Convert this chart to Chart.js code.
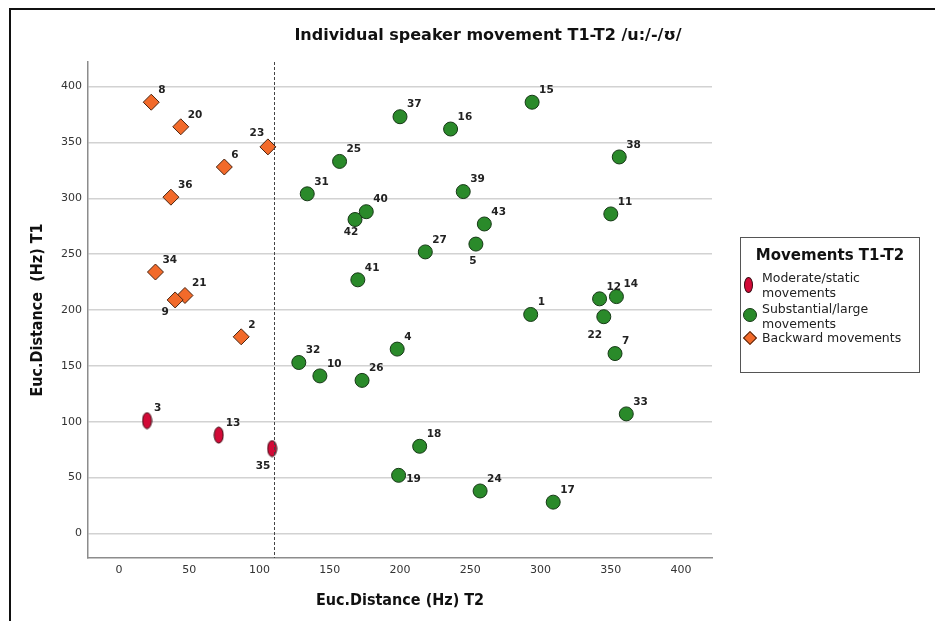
<!DOCTYPE html>
<html>
<head>
<meta charset="utf-8">
<script src="https://cdn.jsdelivr.net/npm/chart.js@4.4.0/dist/chart.umd.min.js"></script>
<style>
  html, body { margin: 0; padding: 0; background: #fff; }
  body { width: 935px; height: 621px; position: relative; overflow: hidden; font-family: "DejaVu Sans", sans-serif; }
  #frame { position: absolute; left: 9px; top: 8px; width: 1000px; height: 700px; border-left: 2px solid #111; border-top: 2px solid #111; }
  #wrap { position: absolute; left: 0; top: 0; width: 935px; height: 621px; }
  #title { position: absolute; left: 488px; top: 25px; transform: translateX(-50%); white-space: nowrap; font-weight: bold; font-size: 16px; color: #111; }
  #legend { position: absolute; left: 740px; top: 237px; width: 178px; height: 134px; border: 1.5px solid #555; }
  #legend .lg-title { position: absolute; left: 0; width: 100%; top: 8px; text-align: center; font-weight: bold; font-size: 15px; color: #111; }
  #legend .item { position: absolute; left: 21px; font-size: 12.5px; line-height: 14.5px; color: #222; white-space: nowrap; }
  #legend .mk { position: absolute; box-sizing: border-box; }
  .ellipse { width: 9px; height: 16px; border-radius: 50%; background: #d20a37; border: 1px solid #3a0a12; }
  .circle { width: 14px; height: 14px; border-radius: 50%; background: #2a8a2a; border: 1px solid #163816; }
  .diamond { width: 10px; height: 10px; background: #f26a2a; border: 1px solid #4a2410; transform: rotate(45deg); }
</style>
</head>
<body>
<div id="frame"></div>
<div id="wrap"><canvas id="chart" width="935" height="621"></canvas></div>
<div id="title">Individual speaker movement T1-T2 /u:/-/ʊ/</div>
<div id="legend">
  <div class="lg-title">Movements T1-T2</div>
  <span class="mk ellipse" style="left:3px; top:39px;"></span>
  <div class="item" style="top:33px;">Moderate/static<br>movements</div>
  <span class="mk circle" style="left:2px; top:70px;"></span>
  <div class="item" style="top:64px;">Substantial/large<br>movements</div>
  <span class="mk diamond" style="left:4px; top:95px;"></span>
  <div class="item" style="top:93px;">Backward movements</div>
</div>
<script>
// speaker ids and Euclidean distances (Hz)
const moderateIds = [3, 13, 35];
const moderateX = [20, 71, 109];
const moderateY = [101, 88, 76];

const substantialIds = [15, 37, 16, 25, 38, 31, 39, 40, 42, 11, 43, 5, 27, 41, 12, 14, 1, 22, 7, 32, 10, 26, 4, 33, 18, 19, 24, 17];
const substantialX = [294, 200, 236, 157, 356, 134, 245, 176, 168, 350, 260, 254, 218, 170, 342, 354, 293, 345, 353, 128, 143, 173, 198, 361, 214, 199, 257, 309];
const substantialY = [386, 373, 362, 333, 337, 304, 306, 288, 281, 286, 277, 259, 252, 227, 210, 212, 196, 194, 161, 153, 141, 137, 165, 107, 78, 52, 38, 28];

const backwardIds = [8, 20, 23, 6, 36, 34, 21, 9, 2];
const backwardX = [23, 44, 106, 75, 37, 26, 47, 40, 87];
const backwardY = [386, 364, 346, 328, 301, 234, 213, 209, 176];

const xTicks = [0, 50, 100, 150, 200, 250, 300, 350, 400];
const yTicks = [0, 50, 100, 150, 200, 250, 300, 350, 400];
const refLineX = 110;

// label placement for the few ids not sitting top-right of their marker
const labelOffsets = { 23: [-11, -14], 42: [-4, 13], 5: [-3, 17], 9: [-10, 12], 35: [-9, 18], 22: [-9, 19], 19: [15, 4] };

function toPoints(xs, ys) {
    return xs.map((x, i) => ({ x: x, y: ys[i] }));
}

// vertical ellipse marker for the moderate group
function makeEllipse() {
    const c = document.createElement('canvas');
    c.width = 11; c.height = 18;
    const g = c.getContext('2d');
    g.beginPath();
    g.ellipse(5.5, 9, 4.5, 8, 0, 0, Math.PI * 2);
    g.fillStyle = '#d20a37';
    g.fill();
    g.lineWidth = 1;
    g.strokeStyle = '#3a0a12';
    g.stroke();
    return c;
}

const refLine = {
    id: 'refLine',
    afterDatasetsDraw(chart) {
        const { ctx, chartArea, scales } = chart;
        const x = Math.round(scales.x.getPixelForValue(refLineX)) + 0.5;
        ctx.save();
        ctx.strokeStyle = '#444';
        ctx.lineWidth = 1;
        ctx.setLineDash([3, 2]);
        ctx.beginPath();
        ctx.moveTo(x, chartArea.top);
        ctx.lineTo(x, chartArea.bottom);
        ctx.stroke();
        ctx.restore();
    }
};

const pointLabels = {
    id: 'pointLabels',
    afterDatasetsDraw(chart) {
        const ctx = chart.ctx;
        ctx.save();
        ctx.font = 'bold 10.5px "DejaVu Sans"';
        ctx.fillStyle = '#222';
        ctx.textBaseline = 'middle';
        chart.data.datasets.forEach((ds, di) => {
            chart.getDatasetMeta(di).data.forEach((pt, i) => {
                const id = ds.ids[i];
                const off = labelOffsets[id];
                if (off) {
                    ctx.textAlign = 'center';
                    ctx.fillText(String(id), pt.x + off[0], pt.y + off[1]);
                } else {
                    ctx.textAlign = 'left';
                    ctx.fillText(String(id), pt.x + 7, pt.y - 12);
                }
            });
        });
        ctx.restore();
    }
};

const tickFont = { family: 'DejaVu Sans', size: 11 };
const axisTitleFont = { family: '"DejaVu Sans Condensed", "Liberation Sans Narrow", "DejaVu Sans"', size: 16, weight: 'bold' };

new Chart(document.getElementById('chart').getContext('2d'), {
    type: 'scatter',
    data: {
        datasets: [
            {
                label: 'Substantial/large movements',
                ids: substantialIds,
                data: toPoints(substantialX, substantialY),
                pointStyle: 'circle',
                pointRadius: 7,
                backgroundColor: '#2a8a2a',
                borderColor: '#163816',
                borderWidth: 1
            },
            {
                label: 'Backward movements',
                ids: backwardIds,
                data: toPoints(backwardX, backwardY),
                pointStyle: 'rectRot',
                pointRadius: 8,
                backgroundColor: '#f26a2a',
                borderColor: '#4a2410',
                borderWidth: 1
            },
            {
                label: 'Moderate/static movements',
                ids: moderateIds,
                data: toPoints(moderateX, moderateY),
                pointStyle: makeEllipse(),
                pointRadius: 8
            }
        ]
    },
    options: {
        responsive: false,
        animation: false,
        devicePixelRatio: 1,
        events: [],
        layout: { padding: { left: 0, right: 223, top: 62, bottom: 0 } },
        plugins: {
            legend: { display: false },
            title: { display: false },
            tooltip: { enabled: false }
        },
        scales: {
            x: {
                type: 'linear',
                min: -22,
                max: 422,
                afterBuildTicks: s => { s.ticks = xTicks.map(v => ({ value: v })); },
                afterFit: s => { s.height = 63; },
                grid: { display: false, drawTicks: false },
                border: { color: '#8c8c8c', width: 1.5 },
                ticks: { padding: 6, color: '#333', font: tickFont },
                title: { display: true, text: 'Euc.Distance (Hz) T2', color: '#111', font: axisTitleFont, padding: { top: 0, bottom: 11 } }
            },
            y: {
                type: 'linear',
                min: -22,
                max: 422,
                afterBuildTicks: s => { s.ticks = yTicks.map(v => ({ value: v })); },
                afterFit: s => { s.width = 88; },
                grid: { color: '#d2d2d2', lineWidth: 1.5, drawTicks: false },
                border: { color: '#8c8c8c', width: 1.5 },
                ticks: { padding: 6, color: '#333', font: tickFont },
                title: { display: true, text: 'Euc.Distance  (Hz) T1', color: '#111', font: axisTitleFont, padding: { top: 28, bottom: 0 } }
            }
        }
    },
    plugins: [refLine, pointLabels]
});
</script>
</body>
</html>
